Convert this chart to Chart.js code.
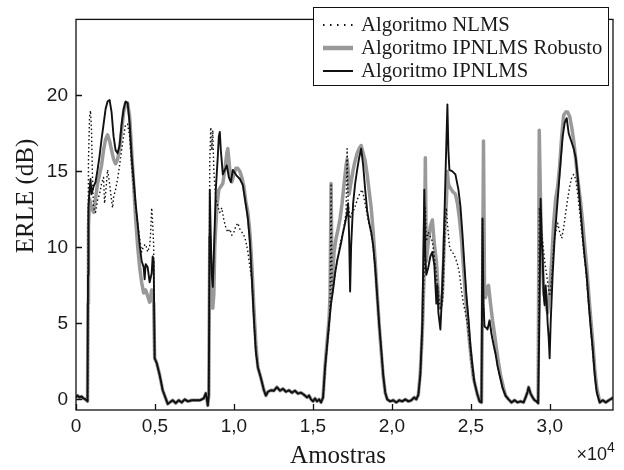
<!DOCTYPE html>
<html>
<head>
<meta charset="utf-8">
<script src="https://cdn.jsdelivr.net/npm/chart.js@4.4.0/dist/chart.umd.min.js"></script>
<style>
  html, body { margin: 0; padding: 0; background: #fff; }
  #wrap { width: 624px; height: 470px; }
</style>
</head>
<body>
<div id="wrap"><canvas id="erleChart" width="624" height="470"></canvas></div>
<script>
// eixos
const xTicks = [0, 5000, 10000, 15000, 20000, 25000, 30000];
const xTickLabels = ["0", "0,5", "1,0", "1,5", "2,0", "2,5", "3,0"];
const yTicks = [0, 5, 10, 15, 20];
const yTickLabels = ["0", "5", "10", "15", "20"];

// trechos de silencio (as tres curvas coincidem)
const silencioInicio = [[0,0.13],[95,0.25],[222,0.13],[349,0.19],[476,0.06],[603,0],[730,-0.13]];
const silencio1 = [[4981,2.7],[5108,2.4],[5298,1.6],[5489,0.6],[5679,0.06],[5806,-0.3],[5933,-0.2],[6123,-0.06],[6313,-0.25],[6504,-0.06],[6694,-0.2],[6884,0],[7075,-0.13],[7328,-0.06],[7582,-0.06],[7836,-0.06],[8090,0.06],[8217,0.4],[8281,0.06],[8344,-0.4],[8407,0.3]];
const silencio2 = [[11517,2.1],[11707,1.4],[11897,0.6],[12024,0.25],[12151,0.5],[12342,0.6],[12532,0.57],[12722,0.8],[12913,0.57],[13103,0.7],[13294,0.5],[13484,0.6],[13674,0.44],[13865,0.57],[14055,0.38],[14245,0.44],[14436,0.3],[14626,0.13],[14753,0.25],[14880,0],[15007,-0.13],[15134,0.06],[15261,-0.13],[15388,0],[15515,-0.2],[15642,0.13]];
const silencio3 = [[19579,0.44],[19706,0],[19896,-0.13],[20087,-0.06],[20277,-0.2],[20467,-0.06],[20658,-0.13],[20848,0],[21039,-0.13],[21229,-0.06],[21420,0.13],[21547,0],[21674,0.3]];
const silencio4 = [[25419,0.3],[25546,-0.13],[25673,-0.2]];
const silencio5 = [[27197,0.25],[27387,0],[27577,-0.2],[27768,-0.06],[27958,-0.2],[28148,-0.13],[28339,-0.2],[28466,0.13],[28593,0.5],[28656,0.8],[28783,0.38],[28910,0.13],[29037,-0.06],[29164,-0.13],[29260,-0.25]];
const silencio6 = [[33163,-0.2],[33354,-0.06],[33544,-0.2],[33734,-0.06],[33925,0.06],[34000,0.13]];

// Algoritmo IPNLMS
const ipnlmsSeg1 = [[760,8.2],[790,12.6],[857,13.8],[920,14.5],[983,13.5],[1110,14.0],[1237,14.3],[1364,15.1],[1491,16.0],[1618,17.1],[1745,18.1],[1872,19.1],[1999,19.6],[2126,19.7],[2252,18.9],[2379,17.3],[2506,16.4],[2633,16.2],[2760,16.7],[2887,18.1],[3014,19.1],[3141,19.6],[3268,19.5],[3395,18.2],[3522,16.0],[3648,14.5],[3775,12.9],[3902,11.6],[4029,10.2],[4156,9.1],[4283,8.7],[4346,7.9],[4410,8.9],[4537,8.7],[4664,7.7],[4791,8.3],[4854,9.4],[4918,9.1]];
const ipnlmsSeg2 = [[8471,13.8],[8534,10.7],[8598,8.2],[8661,7.4],[8725,9.4],[8852,13.8],[8979,16.0],[9042,17.3],[9106,17.6],[9169,16.4],[9296,14.8],[9423,15.1],[9550,15.4],[9677,14.6],[9804,14.3],[9931,15.1],[10058,14.9],[10185,14.7],[10375,14.5],[10565,14.1],[10756,12.8],[10883,11.9],[11009,10.4],[11136,7.9],[11263,5.3],[11390,3.1]];
const ipnlmsSeg3 = [[15769,2.1],[15896,3.5],[16023,5.0],[16150,6.3],[16277,7.2],[16404,8.3],[16531,9.1],[16658,9.7],[16785,10.3],[16912,11.0],[17039,11.6],[17166,12.3],[17229,12.9],[17293,10.7],[17356,7.1],[17420,10.1],[17547,12.9],[17674,14.2],[17801,15.1],[17928,15.9],[18055,16.5],[18182,15.4],[18309,13.8],[18436,12.4],[18563,11.6],[18690,11.0],[18817,10.1],[18944,8.7],[19071,6.8],[19198,4.9],[19325,3.3],[19452,1.6]];
const ipnlmsSeg4 = [[21801,1.6],[21928,5.0],[21991,9.4],[22055,13.8],[22118,9.4],[22182,8.2],[22309,8.7],[22436,9.4],[22563,9.7],[22690,8.8],[22817,6.3],[22880,7.5],[22944,5.7],[23071,4.6],[23134,6.0],[23261,9.4],[23388,14.5],[23515,19.4],[23578,16.4],[23642,15.1],[23832,15.0],[24023,14.8],[24213,13.8],[24340,12.7],[24467,10.9],[24594,8.8],[24721,6.8],[24848,5.3],[24975,3.5],[25102,2.2],[25229,1.1]];
const ipnlmsSeg4b = [[25737,11.9],[25800,6.3],[25864,4.8],[25991,4.7],[26054,4.6],[26181,5.2],[26308,4.3],[26435,3.6],[26562,3.0],[26689,2.2],[26816,1.6],[27006,0.75]];
const ipnlmsSeg5 = [[29354,6.3],[29418,13.2],[29481,10.7],[29545,9.4],[29608,6.9],[29672,6.2],[29735,7.5],[29799,6.5],[29862,5.0],[29925,4.1],[29989,2.7],[30052,5.0],[30179,8.2],[30306,10.6],[30433,12.3],[30560,14.0],[30687,15.7],[30814,17.3],[30941,18.2],[31068,18.5],[31195,17.5],[31322,17.1],[31513,16.5],[31640,15.9],[31767,14.6],[31957,12.3],[32084,10.7],[32211,9.3],[32338,8.1],[32465,6.3],[32592,4.7],[32719,3.3],[32846,1.6],[32973,0.44],[33100,0]];

// Algoritmo IPNLMS Robusto
const robustoSeg1 = [[760,6.3],[790,11.3],[857,13.2],[983,12.6],[1110,12.3],[1237,13.2],[1364,14.2],[1491,14.8],[1618,15.4],[1745,16.4],[1872,17.1],[1999,17.4],[2126,17.0],[2252,16.4],[2379,15.8],[2506,15.5],[2633,15.8],[2760,16.5],[2887,17.7],[3014,18.9],[3141,19.5],[3268,19.5],[3395,18.6],[3522,16.4],[3648,14.2],[3775,11.9],[3902,10.1],[4029,8.7],[4156,7.7],[4283,7.0],[4410,7.2],[4537,6.8],[4664,6.4],[4791,7.2],[4918,6.3]];
const robustoSeg2 = [[8471,10.7],[8534,8.2],[8598,6.3],[8661,6.0],[8725,6.9],[8788,10.1],[8915,12.6],[9042,13.8],[9169,14.0],[9296,14.2],[9423,15.1],[9550,16.2],[9613,16.5],[9740,15.1],[9867,14.3],[9994,14.8],[10121,15.2],[10248,15.2],[10375,15.0],[10502,14.6],[10629,14.0],[10756,13.0],[10883,12.3],[11009,11.0],[11136,8.8],[11263,6.0],[11390,3.6]];
const robustoSeg3 = [[15769,2.2],[15896,3.8],[16023,5.3],[16086,6.9],[16150,14.2],[16213,7.5],[16340,9.7],[16467,10.6],[16594,11.2],[16721,11.9],[16848,12.9],[16975,14.2],[17102,15.4],[17166,15.8],[17229,15.1],[17293,13.5],[17420,14.3],[17547,15.1],[17674,15.7],[17801,16.2],[17928,16.5],[18055,16.7],[18182,16.2],[18309,15.7],[18436,14.8],[18563,13.7],[18690,12.6],[18817,11.0],[18944,9.1],[19071,6.9],[19198,4.9],[19325,3.1],[19452,1.5]];
const robustoSeg4 = [[21801,1.8],[21928,4.4],[22055,8.8],[22118,15.9],[22182,9.1],[22309,10.4],[22436,11.4],[22563,11.8],[22690,10.2],[22817,9.1],[22944,6.9],[23071,6.0],[23198,6.9],[23325,10.7],[23452,13.0],[23515,15.0],[23578,14.2],[23642,14.0],[23832,13.7],[24023,13.5],[24150,12.9],[24277,11.9],[24404,10.6],[24530,8.7],[24657,6.9],[24784,5.3],[24911,3.8],[25038,2.5],[25165,1.4]];
const robustoSeg4b = [[25737,6.0],[25800,17.0],[25864,7.5],[25927,6.7],[26054,7.4],[26118,7.5],[26245,6.3],[26372,5.2],[26499,4.3],[26626,3.3],[26753,2.4],[26880,1.6],[27070,0.75]];
const robustoSeg5 = [[29330,17.7],[29418,12.6],[29481,10.1],[29608,7.2],[29735,6.3],[29862,5.7],[29989,7.2],[30116,9.1],[30243,11.6],[30370,13.2],[30497,14.0],[30624,15.4],[30751,17.3],[30878,18.7],[31005,18.9],[31132,18.9],[31259,18.6],[31386,17.9],[31513,17.0],[31640,15.8],[31767,14.5],[31957,12.9],[32084,11.6],[32211,10.1],[32338,8.7],[32465,6.9],[32592,5.3],[32719,3.8],[32846,2.0],[32973,0.75],[33100,0.13]];

// Algoritmo NLMS
const nlmsSeg1 = [[790,15.7],[857,18.6],[920,19.0],[983,17.6],[1047,14.5],[1110,12.6],[1237,12.3],[1364,13.1],[1491,13.5],[1618,14.2],[1745,14.6],[1808,12.9],[1872,13.5],[1999,15.1],[2126,14.2],[2252,13.1],[2316,12.6],[2379,13.3],[2506,13.8],[2633,14.5],[2760,15.4],[2887,16.4],[3014,17.3],[3141,18.1],[3268,18.1],[3395,17.3],[3522,15.4],[3648,14.0],[3775,12.7],[3902,11.6],[4029,10.6],[4156,9.7],[4283,10.1],[4410,10.2],[4537,9.7],[4664,10.1],[4727,11.0],[4791,12.6],[4854,11.6],[4918,10.1]];
const nlmsSeg2 = [[8471,15.7],[8534,17.9],[8598,16.4],[8661,17.7],[8725,15.1],[8852,13.2],[8979,12.7],[9106,12.3],[9233,12.6],[9360,11.8],[9487,11.3],[9613,11.0],[9740,11.2],[9867,10.8],[9994,11.0],[10121,11.4],[10248,11.6],[10375,11.2],[10502,11.0],[10629,10.8],[10756,10.4],[10883,9.7],[11009,8.7],[11136,7.9],[11263,5.3],[11390,3.1]];
const nlmsSeg3 = [[15769,1.9],[15896,3.5],[16023,4.7],[16086,6.3],[16150,14.2],[16213,6.9],[16340,7.7],[16467,8.7],[16594,9.4],[16721,10.2],[16848,10.8],[16975,11.4],[17102,12.3],[17166,16.5],[17229,12.9],[17356,11.9],[17483,12.3],[17610,12.5],[17737,12.9],[17864,13.3],[17991,13.6],[18118,13.8],[18245,13.2],[18372,12.5],[18499,11.8],[18626,11.2],[18753,10.6],[18880,9.4],[19071,6.8],[19198,4.9],[19325,3.3],[19452,1.6]];
const nlmsSeg4 = [[21801,1.6],[21928,4.4],[22055,8.8],[22118,12.6],[22182,10.4],[22309,11.0],[22436,10.7],[22563,10.4],[22690,9.4],[22817,8.2],[22944,6.9],[23071,6.0],[23198,6.3],[23261,7.5],[23325,10.1],[23388,11.9],[23452,12.6],[23515,11.6],[23642,10.1],[23769,9.7],[23896,9.6],[24023,9.3],[24150,8.9],[24277,8.3],[24404,7.2],[24530,6.3],[24657,5.7],[24784,5.0],[24911,3.8],[25038,2.5],[25165,1.4]];
const nlmsSeg5 = [[29330,12.6],[29418,11.6],[29545,10.4],[29672,9.1],[29799,8.2],[29925,7.2],[29989,6.8],[30116,7.9],[30243,10.1],[30370,11.0],[30497,11.6],[30624,11.0],[30751,10.6],[30878,11.3],[31005,12.3],[31132,13.2],[31259,14.0],[31386,14.6],[31513,14.8],[31640,14.5],[31767,13.5],[31894,12.3],[32021,11.0],[32148,9.7],[32275,8.5],[32402,7.0],[32529,5.5],[32656,3.9],[32783,2.3],[32910,0.9],[33100,0]];

const ipnlms = [].concat(silencioInicio, ipnlmsSeg1, silencio1, ipnlmsSeg2, silencio2, ipnlmsSeg3, silencio3, ipnlmsSeg4, silencio4, ipnlmsSeg4b, silencio5, ipnlmsSeg5, silencio6);
const robusto = [].concat(silencioInicio, robustoSeg1, silencio1, robustoSeg2, silencio2, robustoSeg3, silencio3, robustoSeg4, silencio4, robustoSeg4b, silencio5, robustoSeg5, silencio6);
const nlms = [].concat(silencioInicio, nlmsSeg1, silencio1, nlmsSeg2, silencio2, nlmsSeg3, silencio3, nlmsSeg4, silencio4, ipnlmsSeg4b, silencio5, nlmsSeg5, silencio6);

const toXY = (arr) => arr.map((p) => ({ x: p[0], y: p[1] }));

const serif = "'Liberation Serif', 'Times New Roman', serif";
const sans = "'Liberation Sans', Arial, sans-serif";
const textColor = "#1a1a1a";

// moldura, ticks internos, legenda e rotulos dos eixos
const decorPlugin = {
  id: "decor",
  afterDraw(chart) {
    const { ctx, chartArea: a, scales } = chart;
    ctx.save();
    ctx.strokeStyle = "#111";
    ctx.lineWidth = 1.3;
    ctx.setLineDash([]);
    ctx.strokeRect(a.left, a.top, a.right - a.left, a.bottom - a.top);

    ctx.beginPath();
    xTicks.forEach((v) => {
      const px = Math.round(scales.x.getPixelForValue(v)) + 0.5;
      ctx.moveTo(px, a.bottom);
      ctx.lineTo(px, a.bottom - 6);
    });
    yTicks.forEach((v) => {
      const py = Math.round(scales.y.getPixelForValue(v)) + 0.5;
      ctx.moveTo(a.left, py);
      ctx.lineTo(a.left + 6, py);
    });
    ctx.stroke();

    // legenda
    const box = { x: 313.5, y: 7.5, w: 295, h: 78 };
    ctx.fillStyle = "#fff";
    ctx.fillRect(box.x, box.y, box.w, box.h);
    ctx.lineWidth = 1;
    ctx.strokeStyle = "#111";
    ctx.strokeRect(box.x, box.y, box.w, box.h);
    const rows = [25, 48, 71];
    ctx.font = "20.7px " + serif;
    ctx.textBaseline = "middle";
    ctx.textAlign = "left";
    chart.data.datasets.forEach((ds, i) => {
      ctx.beginPath();
      ctx.strokeStyle = ds.borderColor;
      ctx.lineWidth = i === 1 ? 4.5 : 2;
      ctx.setLineDash(i === 0 ? [1.5, 5.5] : []);
      ctx.moveTo(323, rows[i]);
      ctx.lineTo(353, rows[i]);
      ctx.stroke();
      ctx.setLineDash([]);
      ctx.fillStyle = textColor;
      ctx.fillText(ds.label, 361, rows[i] + 1);
    });

    // titulos
    ctx.fillStyle = textColor;
    ctx.font = "25px " + serif;
    ctx.textAlign = "center";
    ctx.textBaseline = "alphabetic";
    ctx.fillText("Amostras", 338, 463);
    ctx.save();
    ctx.translate(33, 196);
    ctx.rotate(-Math.PI / 2);
    ctx.fillText("ERLE (dB)", 0, 0);
    ctx.restore();

    ctx.textAlign = "right";
    ctx.font = "18px " + sans;
    ctx.fillText("\u00d710", 607, 460);
    ctx.textAlign = "left";
    ctx.font = "14px " + sans;
    ctx.fillText("4", 607, 452);
    ctx.restore();
  },
};

new Chart(document.getElementById("erleChart"), {
  type: "line",
  data: {
    datasets: [
      {
        label: "Algoritmo NLMS",
        data: toXY(nlms),
        borderColor: "#111",
        borderWidth: 1.4,
        borderDash: [1.5, 2.5],
        order: 0,
      },
      {
        label: "Algoritmo IPNLMS Robusto",
        data: toXY(robusto),
        borderColor: "#999",
        borderWidth: 3.5,
        order: 2,
      },
      {
        label: "Algoritmo IPNLMS",
        data: toXY(ipnlms),
        borderColor: "#111",
        borderWidth: 1.9,
        order: 1,
      },
    ],
  },
  options: {
    responsive: false,
    animation: false,
    devicePixelRatio: 1,
    elements: { point: { radius: 0 }, line: { tension: 0, borderJoinStyle: "round" } },
    layout: { padding: { top: 4, right: 11, left: 0, bottom: 0 } },
    plugins: { legend: { display: false }, tooltip: { enabled: false } },
    scales: {
      x: {
        type: "linear",
        min: 0,
        max: 34000,
        afterBuildTicks: (s) => { s.ticks = xTicks.map((v) => ({ value: v })); },
        afterFit: (s) => { s.height = 60; },
        ticks: {
          autoSkip: false,
          maxRotation: 0,
          padding: 5,
          color: textColor,
          font: { family: sans, size: 19 },
          callback: (v, i) => xTickLabels[i],
        },
        grid: { display: false, drawTicks: false },
        border: { display: false },
      },
      y: {
        type: "linear",
        min: -0.7,
        max: 25,
        afterBuildTicks: (s) => { s.ticks = yTicks.map((v) => ({ value: v })); },
        afterFit: (s) => { s.width = 76; },
        ticks: {
          autoSkip: false,
          padding: 8,
          color: textColor,
          font: { family: sans, size: 19 },
          callback: (v, i) => yTickLabels[i],
        },
        grid: { display: false, drawTicks: false },
        border: { display: false },
      },
    },
  },
  plugins: [decorPlugin],
});
</script>
</body>
</html>
